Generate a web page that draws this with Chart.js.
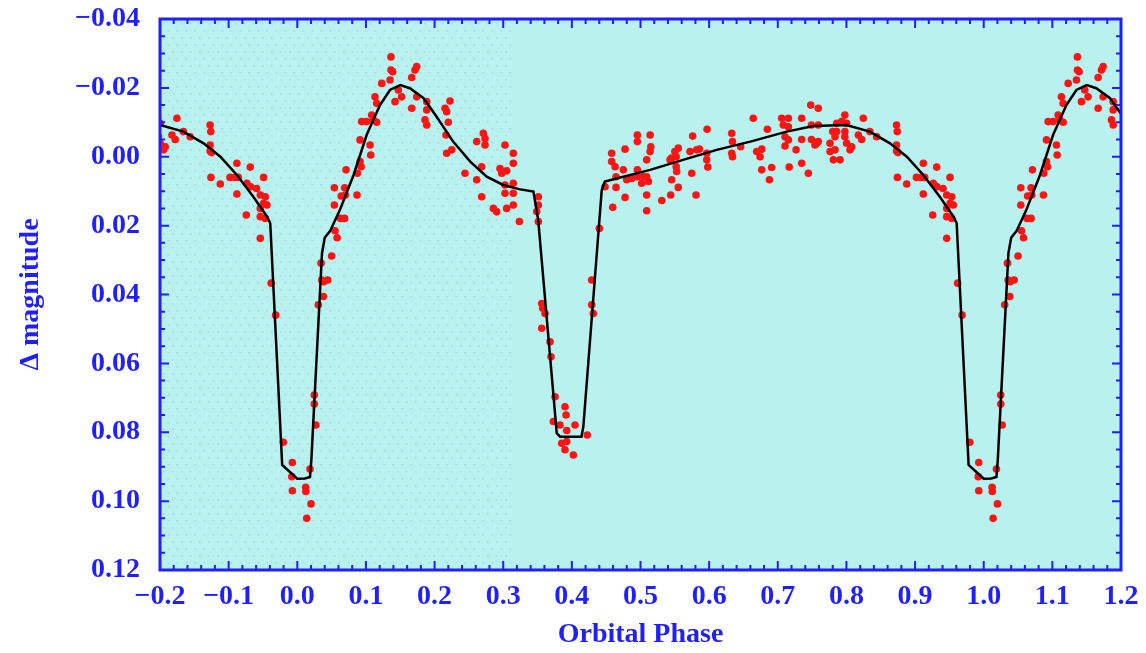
<!DOCTYPE html>
<html><head><meta charset="utf-8">
<script src="https://cdn.jsdelivr.net/npm/chart.js@4"></script>
<style>html,body{margin:0;padding:0;background:#fff;overflow:hidden}#wrap{width:1146px;height:653px;position:relative}canvas{display:block}</style>
</head><body><div id="wrap"><canvas id="c" width="1146" height="653" style="width:1146px;height:653px"></canvas></div>
<script>
// Observed light curve (phase folded to 0..1)
const obsPhase = [
0.0122,0.0125,0.0137,0.0185,0.0200,0.0248,0.0248,0.0270,0.0306,0.0346,0.0356,0.0380,0.0385,0.0443,0.0500,
0.0540,0.0540,0.0550,0.0580,0.0630,0.0640,0.0690,0.0690,0.0700,0.0710,0.0870,0.0875,0.0914,0.0930,0.0914,
0.0938,0.1010,0.1060,0.1070,0.1084,0.1108,0.1157,0.1132,0.1157,0.1230,0.1351,0.1365,0.1365,0.1390,0.1424,
0.1472,0.1520,0.1667,0.1667,0.1715,0.1740,0.1740,0.1861,0.1886,0.1886,0.1886,0.2152,0.2176,0.2225,0.2200,
0.2167,0.2176,0.2250,0.2443,0.2614,0.2614,0.2686,0.2686,0.2710,0.2735,0.2735,0.2856,0.2905,0.2953,0.2978,
0.3026,0.3026,0.3026,0.3050,0.3050,0.3147,0.3147,0.3147,0.3147,0.3147,0.3235,0.3488,0.3512,0.3512,0.3512,
0.3561,0.3575,0.3609,0.3561,0.3682,0.3696,0.3730,0.3755,0.3827,0.3852,0.3900,0.3900,0.3915,0.3925,0.3925,
0.4022,0.4046,0.4225,0.4289,0.4289,0.4313,0.4400,0.4483,0.4580,0.4580,0.4630,0.4643,0.4643,0.4595,0.4775,
0.4750,0.4799,0.4872,0.4775,0.4954,0.4954,0.4954,0.4954,0.5140,0.5150,0.5140,0.5090,0.5017,0.5090,0.5040,
0.5115,0.5090,0.5090,0.5310,0.5430,0.5450,0.5500,0.5550,0.5520,0.5520,0.5454,0.5550,0.5440,0.5527,0.5721,
0.5760,0.5818,0.5857,0.5746,0.5809,0.5970,0.5965,0.5965,0.5980,0.6329,0.6340,0.6329,0.6340,0.6459,0.6643,
0.6693,0.6766,0.6742,0.6766,0.6910,0.6878,0.6848,0.7057,0.7154,0.7080,0.7154,0.7348,0.7480,0.7590,0.7490,
0.7590,0.7105,0.7154,0.7105,0.7348,0.7266,0.7490,0.7590,0.7542,0.7566,0.7166,0.7348,0.7445,0.7977,0.7930,
0.8003,0.7858,0.7858,0.7800,0.7834,0.8246,0.7977,0.7977,0.7761,0.7761,0.7834,0.7810,0.7907,0.8003,0.8076,
0.8052,0.8174,0.8222,0.8340,0.8440,0.8730,0.8740,0.8730,0.8750,0.8730,0.8742,0.8878,0.9120,0.9315,0.9020,
0.9090,0.9140,0.9509,0.9266,0.9320,0.9407,0.9120,0.9461,0.9534,0.9510,0.9558,0.9461,0.9257,0.9461,0.9534,
0.9461,0.9620,0.9685,0.9797,0.9928,0.9920,0.9928
];
const obsMag = [
0.0960,0.0972,0.1050,0.0907,0.1008,0.0692,0.0718,0.0779,0.0430,0.0309,0.0358,0.0406,0.0363,0.0358,0.0288,
0.0090,0.0140,0.0215,0.0235,0.0179,0.0114,0.0090,0.0179,0.0111,0.0038,0.0111,0.0048,0.0014,0.0029,-0.0049,
-0.0102,-0.0102,-0.0034,-0.0005,-0.0121,-0.0107,-0.0100,-0.0174,-0.0155,-0.0213,-0.0223,-0.0290,-0.0252,-0.0247,-0.0160,
-0.0194,-0.0174,-0.0141,-0.0230,-0.0252,-0.0262,-0.0174,-0.0107,-0.0160,-0.0136,-0.0092,-0.0141,-0.0131,-0.0162,-0.0100,
-0.0063,-0.0010,-0.0020,0.0048,0.0067,-0.0044,0.0029,0.0116,-0.0068,-0.0053,-0.0034,0.0150,0.0160,0.0034,0.0048,
-0.0034,0.0082,0.0106,0.0041,0.0150,-0.0010,0.0019,0.0077,0.0106,0.0140,0.0188,0.0159,0.0116,0.0140,0.0188,
0.0426,0.0440,0.0455,0.0498,0.0537,0.0581,0.0769,0.0697,0.0779,0.0832,0.0726,0.0851,0.0750,0.0795,0.0827,
0.0866,0.0779,0.0808,0.0358,0.0430,0.0455,0.0208,0.0087,-0.0010,0.0014,0.0029,0.0058,0.0089,0.0147,-0.0022,
0.0038,0.0067,0.0063,0.0118,-0.0063,-0.0044,0.0038,0.0058,-0.0063,-0.0029,-0.0015,0.0009,0.0077,0.0058,0.0058,
0.0072,0.0111,0.0157,0.0127,0.0009,0.0004,-0.0015,-0.0025,0.0000,0.0029,0.0067,0.0089,0.0111,0.0043,-0.0015,
-0.0060,-0.0020,-0.0022,0.0048,0.0111,-0.0080,-0.0010,0.0009,0.0030,-0.0068,-0.0044,-0.0010,0.0000,-0.0029,-0.0112,
-0.0015,-0.0022,0.0000,0.0038,0.0031,0.0067,-0.0080,-0.0112,-0.0112,-0.0092,-0.0087,-0.0112,-0.0150,-0.0141,-0.0092,
-0.0092,-0.0058,-0.0049,-0.0031,-0.0050,-0.0020,-0.0050,-0.0044,-0.0034,-0.0039,0.0030,0.0019,0.0048,-0.0121,-0.0102,
-0.0097,-0.0097,-0.0073,-0.0073,-0.0058,-0.0112,-0.0073,-0.0058,-0.0039,-0.0015,-0.0020,0.0009,0.0009,-0.0039,-0.0029,
-0.0020,-0.0063,-0.0050,-0.0073,-0.0058,-0.0092,-0.0073,-0.0034,-0.0012,-0.0017,0.0060,0.0079,0.0019,0.0030,0.0060,
0.0060,0.0060,0.0060,0.0077,0.0087,0.0092,0.0108,0.0111,0.0116,0.0135,0.0140,0.0150,0.0169,0.0174,0.0179,
0.0237,0.0367,0.0460,0.0829,0.0888,0.0929,0.0970
];
// Model light curve (phase 0..1)
const fitPhase = [0.000,0.011,0.0185,0.0205,0.036,0.040,0.048,0.062,0.082,0.101,0.1205,0.135,0.150,0.164,0.184,
0.203,0.227,0.252,0.276,0.300,0.323,0.344,0.351,0.378,0.383,0.414,0.4167,0.4435,0.448,0.465,0.514,0.562,0.611,
0.660,0.713,0.752,0.800,0.834,0.8635,0.888,0.912,0.936,0.956,0.9606,0.978,0.994];
const fitMag = [0.0935,0.0934,0.0930,0.0880,0.0280,0.0235,0.0215,0.0155,0.0053,-0.0063,-0.0150,-0.0194,-0.0208,-0.0199,-0.0170,
-0.0116,-0.0044,0.0014,0.0058,0.0082,0.0094,0.0101,0.0184,0.0803,0.0813,0.0813,0.0784,0.0097,0.0072,0.0063,0.0038,0.0009,-0.0020,
-0.0044,-0.0073,-0.0089,-0.0092,-0.0073,-0.0039,0.0000,0.0053,0.0116,0.0174,0.0193,0.0895,0.0924];

const xMin = -0.2, xMax = 1.2, yMin = -0.04, yMax = 0.12;
const xTitle = 'Orbital Phase', yTitle = '\u0394 magnitude';
const BLUE = '#1f1fff';
const stippleEnd = 0.31;

function fold(ph, mg){
  const out = [];
  for (const s of [-1, 0, 1]) {
    for (let i = 0; i < ph.length; i++) {
      const x = ph[i] + s;
      if (x >= xMin - 0.03 && x <= xMax + 0.03) out.push({x: x, y: mg[i]});
    }
  }
  out.sort((a, b) => a.x - b.x);
  return out;
}
function fmt(v, d){
  let s = Number(v).toFixed(d);
  if (Number(s) === 0) s = (0).toFixed(d);
  return s.replace('-', '\u2212');
}

const framePlugin = {
  id: 'frame',
  beforeDatasetsDraw(chart){
    const {ctx, chartArea: a, scales: {x}} = chart;
    ctx.save();
    ctx.fillStyle = '#b9f1ee';
    ctx.fillRect(a.left, a.top, a.right - a.left, a.bottom - a.top);
    const xe = x.getPixelForValue(stippleEnd);
    ctx.fillStyle = 'rgba(140,195,235,0.45)';
    let row = 0;
    for (let py = a.top + 4; py < a.bottom - 2; py += 7, row++) {
      for (let px = a.left + 3 + (row % 2) * 4.5; px < xe; px += 9) {
        ctx.fillRect(px, py, 1.6, 1.6);
      }
    }
    ctx.restore();
  },
  afterDatasetsDraw(chart){
    const {ctx, chartArea: a, scales: {x, y}} = chart;
    ctx.save();
    ctx.strokeStyle = BLUE;
    ctx.lineWidth = 2;
    ctx.beginPath();
    const nx = Math.round((xMax - xMin) / 0.02);
    for (let i = 0; i <= nx; i++) {
      const px = x.getPixelForValue(xMin + i * 0.02);
      const L = (i % 5 === 0) ? 9 : 5;
      ctx.moveTo(px, a.bottom); ctx.lineTo(px, a.bottom - L);
      ctx.moveTo(px, a.top); ctx.lineTo(px, a.top + L);
    }
    const ny = Math.round((yMax - yMin) / 0.005);
    for (let i = 0; i <= ny; i++) {
      const py = y.getPixelForValue(yMin + i * 0.005);
      const L = (i % 4 === 0) ? 9 : 5;
      ctx.moveTo(a.left, py); ctx.lineTo(a.left + L, py);
      ctx.moveTo(a.right, py); ctx.lineTo(a.right - L, py);
    }
    ctx.stroke();
    ctx.lineWidth = 3;
    ctx.strokeRect(a.left, a.top, a.right - a.left, a.bottom - a.top);
    ctx.restore();
  }
};

const fontTick = {family: '"Liberation Serif", "DejaVu Serif", serif', size: 28, weight: 'bold'};

new Chart(document.getElementById('c'), {
  type: 'scatter',
  data: {
    datasets: [
      {
        type: 'line', label: 'model', data: fold(fitPhase, fitMag),
        borderColor: '#000000', borderWidth: 2.5, pointRadius: 0, fill: false,
        tension: 0, order: 0
      },
      {
        type: 'scatter', label: 'observed', data: fold(obsPhase, obsMag),
        backgroundColor: '#ff1414', borderColor: '#ff1414', borderWidth: 0,
        pointRadius: 3.8, order: 1
      }
    ]
  },
  options: {
    responsive: false,
    animation: false,
    devicePixelRatio: 1,
    layout: {padding: {top: 19, right: 25, left: 0, bottom: 0}},
    plugins: {legend: {display: false}, tooltip: {enabled: false}},
    scales: {
      x: {
        type: 'linear', min: xMin, max: xMax,
        afterFit(s){ s.height = 83; s.paddingLeft = 0; s.paddingRight = 0; },
        grid: {display: false, drawTicks: false},
        border: {display: false},
        ticks: {stepSize: 0.1, autoSkip: false, maxRotation: 0, padding: 10,
                color: BLUE, font: fontTick, callback: v => fmt(v, 1)},
        title: {display: true, text: xTitle, color: BLUE, font: fontTick, padding: {top: 0, bottom: 1}}
      },
      y: {
        type: 'linear', min: yMin, max: yMax, reverse: true,
        afterFit(s){ s.width = 160; s.paddingTop = 0; s.paddingBottom = 0; },
        grid: {display: false, drawTicks: false},
        border: {display: false},
        ticks: {stepSize: 0.02, autoSkip: false, padding: 20,
                color: BLUE, font: fontTick, callback: v => fmt(v, 2)},
        title: {display: true, text: yTitle, color: BLUE, font: fontTick, padding: {top: 14, bottom: 0}}
      }
    }
  },
  plugins: [framePlugin]
});
</script>
</body></html>
